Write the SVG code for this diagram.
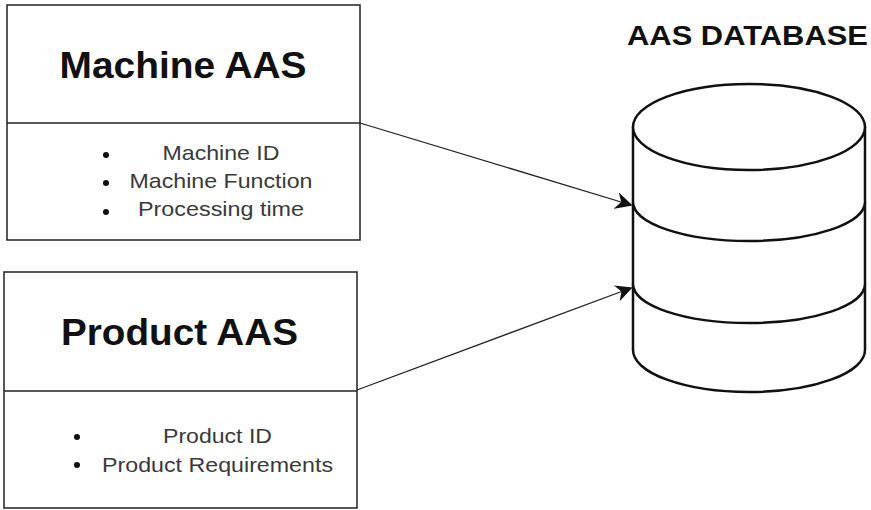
<svg xmlns="http://www.w3.org/2000/svg" width="871" height="510" viewBox="0 0 871 510">
<style>
.box{fill:#fff;stroke:#222;stroke-width:1.5}
.div{stroke:#222;stroke-width:1.5;fill:none}
.title{font-family:"Liberation Sans",Arial,sans-serif;font-weight:bold;fill:#111;text-anchor:middle}
.item{font-family:"Liberation Sans",Arial,sans-serif;font-size:21px;fill:#3a3a3a;text-anchor:middle}
.bullet{fill:#111}
.cyl{fill:#fff;stroke:#111;stroke-width:2.5}
.conn{stroke:#222;stroke-width:1.3;fill:none}
</style>
<defs>
<marker id="arr" viewBox="0 0 10 10" refX="9" refY="5" markerWidth="17" markerHeight="17" markerUnits="userSpaceOnUse" orient="auto">
<path d="M0,0 L10,5 L0,10 L3,5 Z" fill="#111"/>
</marker>
</defs>
<rect width="871" height="510" fill="#fff"/>
<g id="machine-aas">
<rect class="box" x="7" y="5" width="353" height="235"/>
<line class="div" x1="7" y1="123" x2="360" y2="123"/>
<text class="title" x="183" y="78" font-size="37" textLength="247" lengthAdjust="spacingAndGlyphs">Machine AAS</text>
<circle class="bullet" cx="106" cy="155" r="3"/>
<circle class="bullet" cx="106" cy="183" r="3"/>
<circle class="bullet" cx="106" cy="212" r="3"/>
<text class="item" x="221" y="160" textLength="117" lengthAdjust="spacingAndGlyphs">Machine ID</text>
<text class="item" x="221" y="188" textLength="183" lengthAdjust="spacingAndGlyphs">Machine Function</text>
<text class="item" x="221" y="216" textLength="166" lengthAdjust="spacingAndGlyphs">Processing time</text>
</g>
<g id="product-aas">
<rect class="box" x="4" y="272" width="353" height="236"/>
<line class="div" x1="4" y1="391" x2="357" y2="391"/>
<text class="title" x="179.5" y="345" font-size="37" textLength="237" lengthAdjust="spacingAndGlyphs">Product AAS</text>
<circle class="bullet" cx="77" cy="437" r="3"/>
<circle class="bullet" cx="77" cy="465" r="3"/>
<text class="item" x="217.5" y="443" textLength="109" lengthAdjust="spacingAndGlyphs">Product ID</text>
<text class="item" x="217.5" y="472" textLength="231" lengthAdjust="spacingAndGlyphs">Product Requirements</text>
</g>
<g id="aas-database">
<text class="title" x="747.5" y="45" font-size="28" textLength="241" lengthAdjust="spacingAndGlyphs">AAS DATABASE</text>
<path class="cyl" d="M633,127 A116,43 0 0 1 865,127 L865,350 A116,42 0 0 1 633,350 Z"/>
<path class="cyl" d="M633,127 A116,43 0 0 0 865,127"/>
<path class="cyl" d="M633,202 A116,39 0 0 0 865,202"/>
<path class="cyl" d="M633,284 A116,39 0 0 0 865,284"/>
</g>
<g id="connectors">
<path class="conn" d="M360,123 L631,205" marker-end="url(#arr)"/>
<path class="conn" d="M357,390 L631,288" marker-end="url(#arr)"/>
</g>
</svg>
